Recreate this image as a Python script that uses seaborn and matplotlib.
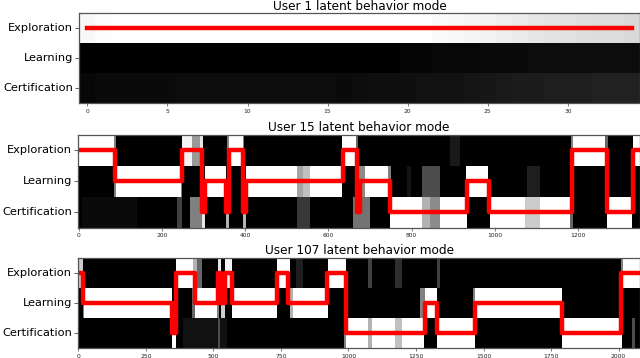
import numpy as np
import matplotlib
matplotlib.use("Agg")
import matplotlib.pyplot as plt
import seaborn as sns

ROW_LABELS = ["Exploration", "Learning", "Certification"]
TITLES = ["User 1 latent behavior mode",
          "User 15 latent behavior mode",
          "User 107 latent behavior mode"]

# ---------------- User 1 (35 steps) : posterior per mode ----------------
u1_len = 35
u1_explore = [0.97, 0.99, 1.0, 1.0, 1.0, 1.0, 1.0, 1.0, 1.0, 1.0,
              1.0, 1.0, 1.0, 1.0, 1.0, 1.0, 1.0, 1.0, 1.0, 1.0,
              1.0, 1.0, 0.98, 0.97, 0.96, 0.95, 0.93, 0.92, 0.90, 0.89,
              0.88, 0.87, 0.86, 0.86, 0.85]
u1_learning = [0.0, 0.0, 0.0, 0.0, 0.0, 0.0, 0.0, 0.0, 0.0, 0.0,
               0.0, 0.0, 0.0, 0.0, 0.0, 0.0, 0.0, 0.0, 0.0, 0.0,
               0.02, 0.02, 0.03, 0.03, 0.03, 0.04, 0.04, 0.04, 0.05, 0.05,
               0.05, 0.05, 0.05, 0.05, 0.05]
u1_cert = [0.03, 0.04, 0.04, 0.04, 0.04, 0.04, 0.05, 0.05, 0.05, 0.05,
           0.05, 0.05, 0.05, 0.05, 0.05, 0.05, 0.04, 0.05, 0.06, 0.06,
           0.06, 0.07, 0.07, 0.07, 0.08, 0.09, 0.10, 0.11, 0.11, 0.12,
           0.12, 0.12, 0.13, 0.13, 0.13]
u1_change = [0]
u1_mode = [0]

# ---------------- User 15 ----------------
u15_len = 1349
u15_change = [0, 88, 248, 296, 304, 355, 363, 395, 403, 636, 669, 677,
              749, 933, 987, 1185, 1269, 1333]
u15_mode = [0, 1, 0, 2, 1, 2, 0, 2, 1, 0, 2, 1, 2, 1, 2, 0, 2, 0]
# posterior intensity intervals (start, end, value) per mode row
u15_explore = [(0, 86, 1.0), (86, 90, 0.5), (248, 272, 0.95), (272, 292, 0.6),
               (292, 300, 0.9), (358, 363, 0.5), (363, 395, 1.0), (395, 399, 0.5),
               (634, 666, 1.0), (666, 672, 0.4), (893, 917, 0.1),
               (1183, 1187, 0.5), (1187, 1265, 1.0), (1265, 1272, 0.4),
               (1331, 1349, 1.0)]
u15_learning = [(86, 90, 0.5), (90, 246, 1.0), (246, 250, 0.5), (304, 355, 1.0),
                (403, 525, 1.0), (525, 540, 0.65), (540, 557, 0.75), (557, 634, 1.0),
                (672, 688, 0.55), (688, 744, 1.0), (744, 750, 0.5), (790, 800, 0.08),
                (825, 869, 0.3), (931, 985, 1.0), (1077, 1109, 0.12)]
u15_cert = [(10, 140, 0.04), (238, 248, 0.25), (268, 296, 0.5), (296, 304, 0.9),
            (355, 363, 0.7), (395, 403, 0.7), (525, 557, 0.22), (660, 700, 0.45),
            (749, 825, 1.0), (825, 845, 0.7), (845, 869, 0.55), (869, 933, 1.0),
            (989, 1073, 1.0), (1073, 1109, 0.8), (1109, 1181, 1.0),
            (1181, 1187, 0.4), (1269, 1329, 1.0)]

# ---------------- User 107 ----------------
u107_len = 2080
u107_change = [0, 16, 346, 362, 432, 516, 527, 543, 568, 737, 778, 922,
               991, 1284, 1327, 1469, 1790, 2010]
u107_mode = [0, 1, 2, 0, 1, 0, 1, 0, 1, 0, 1, 0, 2, 1, 2, 1, 2, 0]
u107_explore = [(0, 19, 0.8), (362, 426, 1.0), (426, 440, 0.7), (440, 457, 0.4),
                (516, 527, 0.9), (543, 568, 0.95), (735, 784, 1.0), (808, 833, 0.12),
                (926, 991, 1.0), (1074, 1087, 0.25), (1173, 1198, 0.18),
                (1327, 1340, 0.25), (2008, 2016, 0.5), (2016, 2080, 1.0)]
u107_learning = [(16, 22, 0.5), (22, 346, 1.0), (420, 432, 0.4), (432, 512, 1.0),
                 (512, 520, 0.5), (527, 543, 0.8), (568, 735, 1.0), (784, 795, 0.7),
                 (795, 926, 1.0), (1266, 1284, 0.5), (1284, 1327, 1.0),
                 (1460, 1469, 0.5), (1469, 1790, 1.0)]
u107_cert = [(346, 362, 1.0), (389, 550, 0.07), (519, 524, 0.3), (985, 991, 0.5),
             (991, 1074, 1.0), (1074, 1087, 0.7), (1087, 1173, 1.0),
             (1173, 1198, 0.75), (1198, 1280, 1.0), (1327, 1469, 1.0),
             (1790, 2013, 1.0), (2050, 2060, 0.3)]

# tick labels
u1_ticks = [0, 5, 10, 15, 20, 25, 30]
u15_ticks = [0, 200, 400, 600, 800, 1000, 1200]
u107_ticks = [0, 250, 500, 750, 1000, 1250, 1500, 1750, 2000]


def matrix_from_intervals(n, rows):
    M = np.zeros((3, n))
    for r, cells in enumerate(rows):
        for s, e, v in cells:
            M[r, s:e] = v
    return M


users = [
    dict(M=np.array([u1_explore, u1_learning, u1_cert]), n=u1_len,
         change=u1_change, mode=u1_mode, ticks=u1_ticks, start=0.5),
    dict(M=matrix_from_intervals(u15_len, [u15_explore, u15_learning, u15_cert]),
         n=u15_len, change=u15_change, mode=u15_mode, ticks=u15_ticks, start=0.0),
    dict(M=matrix_from_intervals(u107_len, [u107_explore, u107_learning, u107_cert]),
         n=u107_len, change=u107_change, mode=u107_mode, ticks=u107_ticks, start=0.0),
]

W, H = 640, 358
fig = plt.figure(figsize=(W / 100, H / 100), dpi=100)

# (left, top, right, bottom) in pixels
boxes = [(79.3, 13.3, 640, 103.3), (78.3, 135, 640, 227.5), (78.3, 258.3, 640, 348.3)]
pads = [2.0, 3.0, 3.0]

for k, (u, box, title) in enumerate(zip(users, boxes, TITLES)):
    l, t, r, b = box
    ax = fig.add_axes([l / W, 1 - b / H, (r - l) / W, (b - t) / H])
    sns.heatmap(u["M"], cmap="gray", vmin=0, vmax=1, cbar=False, ax=ax,
                xticklabels=False, yticklabels=ROW_LABELS, antialiased=False)
    n = u["n"]
    xs = [u["start"]] + list(u["change"][1:]) + [n - 0.5]
    ys = [m + 0.5 for m in u["mode"]] + [u["mode"][-1] + 0.5]
    sns.lineplot(x=xs, y=ys, ax=ax, color="#ff0000", linewidth=3.2,
                 drawstyle="steps-post", estimator=None, sort=False)
    ax.set_xlim(0, n)
    ax.set_ylim(3, 0)
    ax.set_xticks([v + 0.5 for v in u["ticks"]])
    ax.set_xticklabels([str(v) for v in u["ticks"]], fontsize=4.3, color="#222222")
    ax.set_yticks([0.5, 1.5, 2.5])
    ax.set_yticklabels(ROW_LABELS, rotation=0, fontsize=8.2, va="center")
    ax.tick_params(axis="x", length=2.5, width=0.5, pad=1.5, colors="#444444",
                   labelcolor="#222222")
    ax.tick_params(axis="y", length=3, width=0.6, pad=1.5, colors="#444444",
                   labelcolor="black")
    ax.set_xlabel("")
    ax.set_ylabel("")
    for sp in ax.spines.values():
        sp.set_visible(True)
        sp.set_color("#555555")
        sp.set_linewidth(0.9)
    ax.set_title(title, fontsize=8.7, pad=pads[k])

fig.savefig("out.png", dpi=100)
